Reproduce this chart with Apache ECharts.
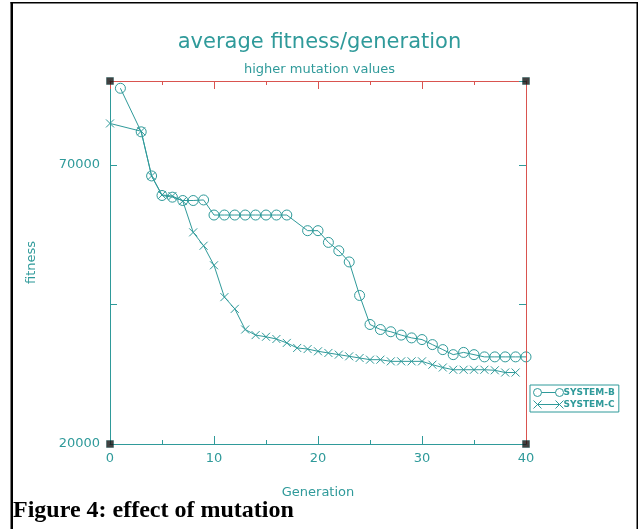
<!DOCTYPE html>
<html><head><meta charset="utf-8">
<script src="https://cdn.jsdelivr.net/npm/echarts@6/dist/echarts.min.js"></script>
<style>html,body{margin:0;padding:0;background:#fff}#c{width:639px;height:529px}</style>
</head><body><div id="c"></div>
<script>
// ---- data ----
const genB = [1,3,4,5,6,7,8,9,10,11,12,13,14,15,16,17,19,20,21,22,23,24,25,26,27,28,29,30,31,32,33,34,35,36,37,38,39,40];
const fitB = [83700,75900,68000,64500,64200,63600,63600,63700,61000,61000,61000,61000,61000,61000,61000,61000,58200,58200,56100,54600,52600,46600,41400,40500,40100,39500,39000,38700,37800,36900,36000,36400,36000,35600,35600,35600,35600,35600];
const genC = [0,3,4,5,6,7,8,9,10,11,12,13,14,15,16,17,18,19,20,21,22,23,24,25,26,27,28,29,30,31,32,33,34,35,36,37,38,39];
const fitC = [77400,76000,68000,64600,64400,63500,57900,55500,52000,46300,44200,40500,39500,39200,38800,38100,37200,37000,36600,36300,36000,35700,35400,35100,35100,34800,34800,34800,34800,34200,33700,33300,33300,33300,33300,33200,32800,32800];
const seriesNames = ['SYSTEM-B','SYSTEM-C'];
const xLabelValues = [0,10,20,30,40];
const yLabelValues = [20000,70000];
const xMin = 0, xMax = 40, yMin = 20000, yMax = 85000;

// ---- styling ----
const TEAL = '#2f9a9a';
const RED = '#d9534f';
const shadow = {textShadowColor:'rgba(225,95,95,0.45)', textShadowOffsetX:-1, textShadowOffsetY:0, textShadowBlur:0};
const font = 'DejaVu Sans';

const iconB = 'path://M0,4A4,4,0,1,1,8,4A4,4,0,1,1,0,4ZM8,4L22,4M22,4A4,4,0,1,1,30,4A4,4,0,1,1,22,4Z';
const iconC = 'path://M0,0L8,8M8,0L0,8M4,4L26,4M22,0L30,8M30,0L22,8';

const chart = echarts.init(document.getElementById('c'), null, {renderer:'canvas'});
const corners = [[xMin,yMax],[xMax,yMax],[xMin,yMin],[xMax,yMin]];

chart.setOption({
  animation:false,
  backgroundColor:'#fff',
  title:{
    text:'average fitness/generation',
    subtext:'higher mutation values',
    left:'center', top:27, itemGap:10,
    textStyle:Object.assign({color:TEAL, fontFamily:font, fontSize:21, fontWeight:'normal'}, shadow),
    subtextStyle:Object.assign({color:TEAL, fontFamily:font, fontSize:13}, shadow)
  },
  legend:{
    orient:'vertical', left:530, top:385,
    padding:[3,4,3,3], itemGap:3,
    borderColor:TEAL, borderWidth:1,
    itemWidth:30, itemHeight:8,
    data:[{name:seriesNames[0], icon:iconB},{name:seriesNames[1], icon:iconC}],
    itemStyle:{color:'rgba(0,0,0,0)', borderColor:TEAL, borderWidth:1},
    textStyle:{color:TEAL, fontFamily:font, fontSize:9, fontWeight:'bold', padding:[0,0,0,-5]}
  },
  grid:{left:110, top:81, right:113, bottom:85, containLabel:false},
  xAxis:[{
    type:'value', min:xMin, max:xMax, interval:10, position:'bottom',
    name:'Generation', nameLocation:'middle', nameGap:42,
    nameTextStyle:Object.assign({color:TEAL, fontFamily:font, fontSize:13}, shadow),
    axisLine:{onZero:false, lineStyle:{color:TEAL, width:1}},
    axisTick:{inside:true, length:8, lineStyle:{color:TEAL}},
    minorTick:{show:true, splitNumber:2, length:4, lineStyle:{color:TEAL}},
    splitLine:{show:false},
    axisLabel:Object.assign({color:TEAL, fontFamily:font, fontSize:13, margin:8,
      formatter:v=>xLabelValues.includes(v)?String(v):''}, shadow)
  },{
    type:'value', min:xMin, max:xMax, interval:10, position:'top', z:10,
    axisLine:{show:true, onZero:false, lineStyle:{color:RED, width:1}},
    axisTick:{show:true, inside:true, length:8, lineStyle:{color:RED}},
    minorTick:{show:true, splitNumber:2, length:4, lineStyle:{color:RED}},
    splitLine:{show:false}, axisLabel:{show:false}
  }],
  yAxis:[{
    type:'value', min:yMin, max:yMax, interval:25000, position:'left',
    name:'fitness', nameLocation:'middle', nameGap:72, nameRotate:90,
    nameTextStyle:Object.assign({color:TEAL, fontFamily:font, fontSize:13}, shadow),
    axisLine:{onZero:false, lineStyle:{color:TEAL, width:1}},
    axisTick:{show:true, inside:true, length:7, lineStyle:{color:TEAL}},
    splitLine:{show:false},
    axisLabel:Object.assign({color:TEAL, fontFamily:font, fontSize:13, margin:10,
      formatter:v=>yLabelValues.includes(v)?String(v):''}, shadow)
  },{
    type:'value', min:yMin, max:yMax, interval:25000, position:'right', z:10,
    axisLine:{show:true, onZero:false, lineStyle:{color:RED, width:1}},
    axisTick:{inside:true, length:7, lineStyle:{color:TEAL}},
    splitLine:{show:false}, axisLabel:{show:false}
  }],
  series:[{
    name:seriesNames[0], type:'line', xAxisIndex:0, yAxisIndex:0,
    data:genB.map((g,i)=>[g,fitB[i]]),
    symbol:'circle', symbolSize:10,
    itemStyle:{color:'rgba(0,0,0,0)', borderColor:TEAL, borderWidth:1},
    lineStyle:{color:TEAL, width:1}
  },{
    name:seriesNames[1], type:'line', xAxisIndex:0, yAxisIndex:0,
    data:genC.map((g,i)=>[g,fitC[i]]),
    symbol:'path://M0,0L10,10M10,0L0,10', symbolSize:8,
    itemStyle:{color:'rgba(0,0,0,0)', borderColor:TEAL, borderWidth:1},
    lineStyle:{color:TEAL, width:1}
  },{
    name:'corners', type:'scatter', xAxisIndex:1, yAxisIndex:1,
    data:corners, symbol:'rect', symbolSize:7, silent:true, z:20,
    itemStyle:{color:'#111', borderColor:'#0a4a4a', borderWidth:0.5}
  }],
  graphic:[
    {type:'rect', shape:{x:10.5, y:2, width:2.5, height:527}, style:{fill:'#000'}, silent:true},
    {type:'rect', shape:{x:10.5, y:2, width:627, height:1.5}, style:{fill:'#000'}, silent:true},
    {type:'rect', shape:{x:636.5, y:2, width:1.5, height:527}, style:{fill:'#000'}, silent:true},
    {type:'text', left:13, top:499,
     style:{text:'Figure 4: effect of mutation', fill:'#000', font:'bold 24px "Liberation Serif", serif'}, silent:true}
  ]
});
</script>
</body></html>
